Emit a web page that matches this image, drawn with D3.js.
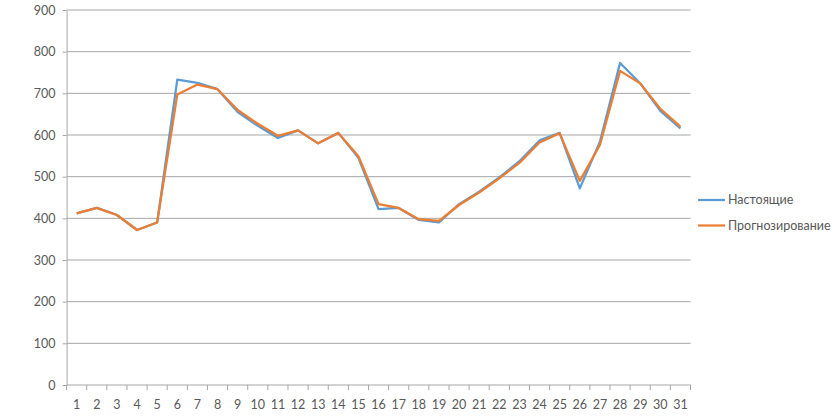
<!DOCTYPE html>
<meta charset="utf-8">
<style>
body { margin: 0; background: #fff; }
text { font-family: Lato, "Open Sans", sans-serif; fill: #595959; }
.grid line { stroke: #a6a6a6; stroke-width: 1; }
.axis path, .axis line { stroke: #a6a6a6; }
</style>
<body>
<svg width="836" height="417"></svg>
<script src="https://d3js.org/d3.v7.min.js"></script>
<script>

var days = d3.range(1, 32);
var yTicks = [0, 100, 200, 300, 400, 500, 600, 700, 800, 900];

var actual = [412, 425, 408, 372, 390, 733, 725, 710, 655, 622, 593, 611, 580, 605, 545, 422,
              425, 396, 390, 434, 464, 498, 537, 587, 605, 472, 584, 773, 724, 658, 616];
var forecast = [412, 425, 408, 372, 390, 697, 721, 710, 660, 627, 598, 611, 580, 605, 549, 434,
                425, 398, 394, 432, 462, 496, 533, 582, 604, 490, 576, 754, 724, 663, 620];

var seriesNames = ["Настоящие", "Прогнозирование"];
var colors = ["#5b9bd5", "#ed7d31"];

var svg = d3.select("svg");

var x = d3.scaleBand().domain(days).range([66.6, 690.5]);
var y = d3.scaleLinear().domain([0, 900]).range([385, 10]);

// gridlines
svg.append("g").attr("class", "grid")
  .selectAll("line").data(yTicks.slice(1)).enter().append("line")
    .attr("x1", x.range()[0]).attr("x2", x.range()[1])
    .attr("y1", function(d) { return y(d); }).attr("y2", function(d) { return y(d); });

// y axis
var yAxis = svg.append("g").attr("class", "axis")
    .attr("transform", "translate(" + x.range()[0] + ",0)")
    .call(d3.axisLeft(y).tickValues(yTicks).tickSize(4).tickSizeOuter(0));
yAxis.selectAll("text").style("font-size", "12.5px").attr("x", -11);

// x axis with ticks at band edges
var xAxis = svg.append("g").attr("class", "axis")
    .attr("transform", "translate(0," + y(0) + ")");
xAxis.append("line").attr("x1", x.range()[0]).attr("x2", x.range()[1]);
xAxis.selectAll(".tk").data(days.concat([32])).enter().append("line")
    .attr("class", "tk")
    .attr("x1", function(d) { return d <= 31 ? x(d) : x.range()[1]; })
    .attr("x2", function(d) { return d <= 31 ? x(d) : x.range()[1]; })
    .attr("y1", 0).attr("y2", 5);
xAxis.selectAll(".lbl").data(days).enter().append("text")
    .attr("class", "lbl")
    .attr("x", function(d) { return x(d) + x.bandwidth() / 2; })
    .attr("y", 24)
    .attr("text-anchor", "middle")
    .style("font-size", "12.5px")
    .text(function(d) { return d; });

var line = d3.line()
    .x(function(d, i) { return x(days[i]) + x.bandwidth() / 2; })
    .y(function(d) { return y(d); });

[actual, forecast].forEach(function(s, k) {
  svg.append("path").datum(s)
    .attr("d", line)
    .attr("fill", "none")
    .attr("stroke", colors[k])
    .attr("stroke-width", 2.25)
    .attr("stroke-linejoin", "round");
});

// legend
var legend = svg.append("g").selectAll("g").data(seriesNames).enter().append("g")
    .attr("transform", function(d, i) { return "translate(698," + (200 + i * 25.5) + ")"; });
legend.append("line")
    .attr("x1", 0).attr("x2", 27)
    .attr("stroke", function(d, i) { return colors[i]; })
    .attr("stroke-width", 2.25);
legend.append("text")
    .attr("x", 30).attr("dy", "0.35em")
    .style("font-size", "12.5px")
    .text(function(d) { return d; });

</script>
</body>
